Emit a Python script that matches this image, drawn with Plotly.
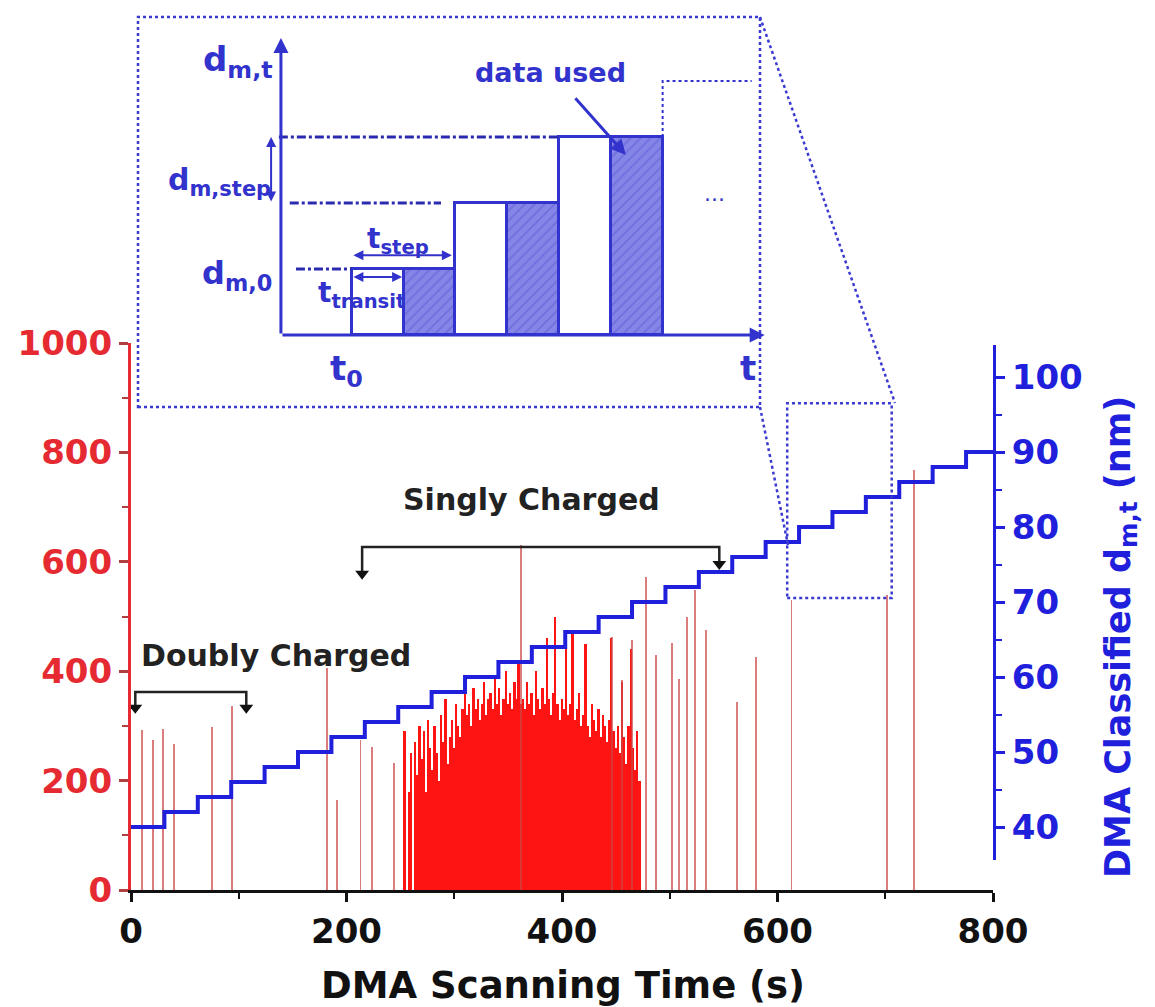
import plotly.graph_objects as go

W, H = 1155, 1007
OFF = 8  # page body margin seen in the screenshot


def px_x(v):
    return (v - OFF) / W


def px_y(v):
    return 1 - (v - OFF) / H


# ---------------- data ----------------
# dense particle-count spikes (time s, counts)
dense_times = [254, 256, 258, 260, 262, 264, 266, 268, 270, 272, 274, 276, 278, 280, 282, 284, 286, 288,
               290, 292, 294, 296, 298, 300, 302, 304, 306, 308, 310, 312, 314, 316, 318, 320, 322, 324,
               326, 328, 330, 332, 334, 336, 338, 340, 342, 344, 346, 348, 350, 352, 354, 356, 358, 360,
               362, 364, 366, 368, 370, 372, 374, 376, 378, 380, 382, 384, 386, 388, 390, 392, 394, 396,
               398, 400, 402, 404, 406, 408, 410, 412, 414, 416, 418, 420, 422, 424, 426, 428, 430, 432,
               434, 436, 438, 440, 442, 444, 446, 448, 450, 452, 454, 456, 458, 460, 462, 464, 466, 468,
               470, 472]
dense_counts = [290, 0, 180, 250, 0, 270, 210, 300, 240, 290, 180, 310, 260, 220, 300, 250, 200, 320,
                270, 350, 230, 280, 310, 260, 340, 300, 280, 330, 360, 320, 340, 300, 370, 330, 350, 310,
                340, 380, 320, 350, 360, 330, 390, 340, 370, 320, 350, 400, 340, 360, 330, 380, 350, 420,
                340, 350, 330, 380, 340, 360, 320, 400, 350, 330, 370, 340, 460, 350, 320, 360, 500, 340,
                310, 350, 330, 450, 320, 340, 470, 310, 330, 360, 300, 320, 450, 300, 280, 340, 310, 290,
                330, 280, 320, 300, 270, 310, 460, 290, 260, 300, 250, 380, 280, 230, 300, 440, 260, 220,
                290, 200]

# isolated spikes (time s, counts)
sparse_times = [10, 20, 30, 40, 75, 94, 182, 191, 213, 224, 244, 362, 446, 456, 465, 478, 487, 502,
                509, 516, 523, 534, 562, 580, 613, 702, 727]
sparse_counts = [292, 274, 295, 267, 298, 337, 405, 165, 274, 262, 232, 630, 463, 384, 457, 572, 430, 452,
                 385, 500, 548, 475, 344, 426, 530, 540, 768]

# DMA classified diameter staircase
step_times = [0, 31, 62, 93, 124, 155, 186, 217, 248, 279, 310, 341, 372, 403, 434, 465, 496, 527, 558,
              589, 620, 651, 682, 713, 744, 775, 800]
step_diams = [40, 42, 44, 46, 48, 50, 52, 54, 56, 58, 60, 62, 64, 66, 68, 70, 72, 74, 76, 78, 80, 82,
              84, 86, 88, 90, 90]

x_ticks = [0, 200, 400, 600, 800]
left_ticks = [0, 200, 400, 600, 800, 1000]
right_ticks = [40, 50, 60, 70, 80, 90, 100]

# brackets (time, counts)
doubly_x = [4, 4, 107, 107]
doubly_y = [333, 362, 362, 333]
singly_x = [214.5, 214.5, 546, 546]
singly_y = [578, 627, 627, 596]

# zoom box (time range, counts range)
zoom_t = [609, 706]
zoom_c = [534, 890]

# inset schematic (arbitrary units)
inset_white_x = [1.87, 3.87, 5.87]
inset_hatch_x = [2.87, 4.87, 6.87]
inset_levels = [1, 2, 3]
inset_next_x = [7.37, 7.37, 9.09]
inset_next_y = [3, 3.85, 3.85]
level_line_start = [0.29, 0.17, -0.04]
level_line_end = [1.37, 3.09, 5.37]

RED = "#e62a32"
BLUE = "#2020dc"
IBLUE = "#3232cc"
FONT = "DejaVu Sans"

fig = go.Figure()

# ---------------- main traces ----------------
fig.add_trace(go.Bar(x=dense_times, y=dense_counts, width=1.7, marker=dict(color="#ff1414", line_width=0),
                     xaxis="x", yaxis="y", showlegend=False))
fig.add_trace(go.Bar(x=sparse_times, y=sparse_counts, width=1.8,
                     marker=dict(color="rgba(205,70,70,0.7)", line_width=0),
                     xaxis="x", yaxis="y", showlegend=False))
fig.add_trace(go.Scatter(x=step_times, y=step_diams, mode="lines", line=dict(color=BLUE, width=4, shape="hv"),
                         xaxis="x", yaxis="y2", showlegend=False))

# brackets
for bx, by in [(doubly_x, doubly_y), (singly_x, singly_y)]:
    fig.add_trace(go.Scatter(x=bx, y=by, mode="lines", line=dict(color="#222222", width=2.5),
                             xaxis="x", yaxis="y", showlegend=False))
    fig.add_trace(go.Scatter(x=[bx[0], bx[-1]], y=[by[0], by[-1]], mode="markers",
                             marker=dict(symbol="triangle-down", size=12, color="#111111"),
                             xaxis="x", yaxis="y", showlegend=False))

# ---------------- inset traces ----------------
fig.add_trace(go.Bar(x=inset_white_x, y=inset_levels, width=1.0,
                     marker=dict(color="white", line=dict(color=IBLUE, width=3)),
                     xaxis="x3", yaxis="y3", showlegend=False))
fig.add_trace(go.Bar(x=inset_hatch_x, y=inset_levels, width=1.0,
                     marker=dict(color="#7c7ce4", line=dict(color=IBLUE, width=3),
                                 pattern=dict(shape="/", fgcolor="#5a5ad2", bgcolor="#8585e8",
                                              size=7, solidity=0.25)),
                     xaxis="x3", yaxis="y3", showlegend=False))
fig.add_trace(go.Scatter(x=inset_next_x, y=inset_next_y, mode="lines",
                         line=dict(color=IBLUE, width=2, dash="dot"),
                         xaxis="x3", yaxis="y3", showlegend=False))
for xs, xe, lv in zip(level_line_start, level_line_end, inset_levels):
    fig.add_trace(go.Scatter(x=[xs, xe], y=[lv, lv], mode="lines",
                             line=dict(color="#2a2ab0", width=3, dash="dashdot"),
                             xaxis="x3", yaxis="y3", showlegend=False))

# ---------------- annotations ----------------
ann = []
ann.append(dict(x=7, y=428, xref="x", yref="y", text="<b>Doubly Charged</b>", showarrow=False,
                xanchor="left", yanchor="middle", font=dict(family=FONT, size=30, color="#222222")))
ann.append(dict(x=251, y=713, xref="x", yref="y", text="<b>Singly Charged</b>", showarrow=False,
                xanchor="left", yanchor="middle", font=dict(family=FONT, size=30, color="#222222")))
ann.append(dict(x=px_x(563), y=px_y(985), xref="paper", yref="paper", text="<b>DMA Scanning Time (s)</b>",
                showarrow=False, xanchor="center", yanchor="middle",
                font=dict(family=FONT, size=37, color="#111111")))
ann.append(dict(x=px_x(1120), y=px_y(637), xref="paper", yref="paper",
                text="<b>DMA Classified d<sub>m,t</sub> (nm)</b>", textangle=-90,
                showarrow=False, xanchor="center", yanchor="middle",
                font=dict(family=FONT, size=35, color=BLUE)))

IF = dict(family=FONT, color=IBLUE)


def inset_text(x, y, t, size):
    ann.append(dict(x=x, y=y, xref="x3", yref="y3", text=t, showarrow=False,
                    xanchor="center", yanchor="middle", font=dict(size=size, **IF)))


inset_text(-0.83, 4.14, "<b>d<sub>m,t</sub></b>", 34)
inset_text(-1.18, 2.32, "<b>d<sub>m,step</sub></b>", 30)
inset_text(-0.85, 0.91, "<b>d<sub>m,0</sub></b>", 32)
inset_text(2.26, 1.44, "<b>t<sub>step</sub></b>", 28)
inset_text(1.56, 0.61, "<b>t<sub>transit</sub></b>", 28)
inset_text(1.27, -0.53, "<b>t<sub>0</sub></b>", 34)
inset_text(9.02, -0.5, "<b>t</b>", 34)
inset_text(5.21, 3.98, "<b>data used</b>", 27)
inset_text(8.38, 2.05, "···", 22)


def inset_arrow(x, y, ax, ay, side="end", width=3, head=2):
    ann.append(dict(x=x, y=y, ax=ax, ay=ay, xref="x3", yref="y3", axref="x3", ayref="y3",
                    text="", showarrow=True, arrowhead=head, arrowsize=1, arrowwidth=width,
                    arrowcolor=IBLUE, arrowside=side, startarrowhead=head, startarrowsize=1))


inset_arrow(0, 4.5, 0, 0)          # vertical axis
inset_arrow(9.34, 0, 0, 0)         # horizontal axis
inset_arrow(-0.19, 3, -0.19, 2, side="end+start", width=2)   # d_m,step
inset_arrow(3.30, 1.21, 1.37, 1.21, side="end+start", width=2)  # t_step
inset_arrow(2.34, 0.88, 1.37, 0.88, side="end+start", width=2)  # t_transit
inset_arrow(6.66, 2.73, 5.66, 3.61, width=3)  # data used pointer

# ---------------- shapes ----------------
DOT = dict(color="#3a3ad0", width=2.5, dash="dot")
shapes = [
    dict(type="rect", xref="x3 domain", yref="y3 domain", x0=0, x1=1, y0=0, y1=1, line=DOT),
    dict(type="rect", xref="x", yref="y", x0=zoom_t[0], x1=zoom_t[1], y0=zoom_c[0], y1=zoom_c[1], line=DOT),
    dict(type="line", xref="paper", yref="paper", x0=px_x(760), y0=px_y(17), x1=px_x(895), y1=px_y(403),
         line=DOT),
    dict(type="line", xref="paper", yref="paper", x0=px_x(760), y0=px_y(407), x1=px_x(788), y1=px_y(545),
         line=DOT),
]

tickfont = dict(family=FONT, size=34, weight="bold")

fig.update_layout(
    width=W, height=H, autosize=False,
    margin=dict(l=0, r=0, t=0, b=0, pad=0),
    paper_bgcolor="white", plot_bgcolor="rgba(0,0,0,0)",
    barmode="overlay", bargap=0,
    showlegend=False,
    annotations=ann, shapes=shapes,
    xaxis=dict(domain=[px_x(131), px_x(993)], range=[0, 800], anchor="y", automargin=False,
               showline=True, linecolor="#111111", linewidth=2.5,
               ticks="outside", ticklen=9, tickwidth=2.5, tickcolor="#111111",
               tickvals=x_ticks, tickfont=dict(color="#111111", **tickfont),
               minor=dict(dtick=100, ticks="outside", ticklen=6, tickwidth=2, tickcolor="#111111"),
               showgrid=False, zeroline=False),
    yaxis=dict(domain=[px_y(890), px_y(343)], range=[0, 1000], anchor="x", automargin=False,
               showline=True, linecolor=RED, linewidth=3,
               ticks="outside", ticklen=9, tickwidth=2.5, tickcolor="#b04040",
               tickvals=left_ticks, tickfont=dict(color=RED, **tickfont),
               minor=dict(dtick=100, ticks="outside", ticklen=6, tickwidth=2, tickcolor="#b04040"),
               showgrid=False, zeroline=False),
    yaxis2=dict(domain=[px_y(860), px_y(345)], range=[35.6, 104.27], anchor="x", side="right",
                automargin=False,
                showline=True, linecolor=BLUE, linewidth=3,
                ticks="outside", ticklen=9, tickwidth=2.5, tickcolor=BLUE,
                tickvals=right_ticks, tickfont=dict(color=BLUE, **tickfont),
                minor=dict(dtick=5, ticks="outside", ticklen=6, tickwidth=2, tickcolor=BLUE),
                showgrid=False, zeroline=False),
    xaxis3=dict(domain=[px_x(138), px_x(760)], range=[-2.76, 9.25], anchor="y3", visible=False,
                automargin=False),
    yaxis3=dict(domain=[px_y(407), px_y(17)], range=[-1.09, 4.82], anchor="x3", visible=False,
                automargin=False),
)

fig.write_html("out.html", config={"displayModeBar": False})
